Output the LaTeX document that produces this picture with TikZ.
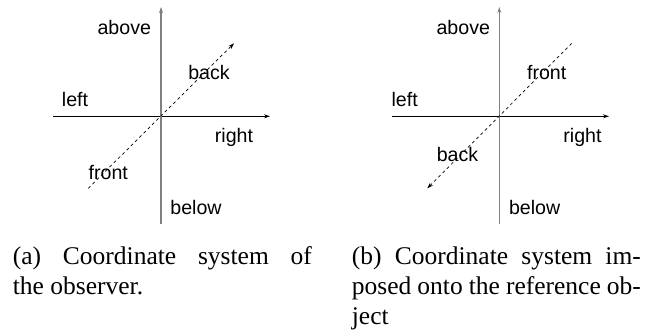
\documentclass[tikz,border=0pt]{standalone}
\usepackage{fontspec}
\setmainfont{Liberation Serif}
\newfontfamily\labelsans{Liberation Sans}
\usetikzlibrary{arrows.meta}
\begin{document}
\begin{tikzpicture}[x=1pt,y=-1pt,
  axlabel/.style={anchor=base,inner sep=0pt,font=\labelsans\fontsize{19.6}{23}\selectfont},
  capline/.style={anchor=base west,inner sep=0pt,font=\fontsize{25.5}{30}\selectfont},
  tip/.style={-{Stealth[length=6pt,width=4pt]}},
  haxis/.style={tip,black,line width=0.9pt},
  vaxis/.style={tip,gray,line width=1.4pt},
  depth/.style={tip,black,line width=0.7pt,dash pattern=on 3pt off 3pt}]
\useasboundingbox (0,0) rectangle (649,334);
% ---- panel (a)
\coordinate (aL) at (53,116.3);
\coordinate (aR) at (270,116.3);
\coordinate (aB) at (161,224);
\coordinate (aT) at (161,7);
\coordinate (aF) at (88.3,188.3);
\coordinate (aK) at (234,43.3);
\draw[haxis] (aL) -- (aR);
\draw[vaxis] (aB) -- (aT);
\draw[depth] (aF) -- (aK);
\node[axlabel] (aabove) at (124.3,35) {above};
\node[axlabel] (aback) at (209,80) {back};
\node[axlabel] (aleft) at (75,107) {left};
\node[axlabel] (aright) at (234,143) {right};
\node[axlabel] (afront) at (108.3,180) {front};
\node[axlabel] (abelow) at (196,215) {below};
% ---- panel (b)
\coordinate (bL) at (391.7,116.3);
\coordinate (bR) at (609,116.3);
\coordinate (bB) at (499.3,224);
\coordinate (bT) at (499.3,7);
\coordinate (bF) at (571.7,43.3);
\coordinate (bK) at (427.3,188.3);
\draw[haxis] (bL) -- (bR);
\draw[vaxis] (bB) -- (bT);
\draw[depth] (bF) -- (bK);
\node[axlabel] (babove) at (463.3,35) {above};
\node[axlabel] (bfront) at (546.7,80) {front};
\node[axlabel] (bleft) at (404.7,107) {left};
\node[axlabel] (bright) at (582.5,143) {right};
\node[axlabel] (bback) at (457.5,162) {back};
\node[axlabel] (bbelow) at (534.7,215) {below};
% ---- captions
\node[capline] (capa1) at (12.7,265) {\makebox[299pt][s]{(a) Coordinate system of}};
\node[capline] (capa2) at (12.7,295) {the observer.};
\node[capline] (capb1) at (351.7,265) {\makebox[289pt][s]{(b) Coordinate system im-}};
\node[capline] (capb2) at (351.7,295) {\makebox[289pt][s]{posed onto the reference ob-}};
\node[capline] (capb3) at (351.7,325) {ject};
\end{tikzpicture}
\end{document}
